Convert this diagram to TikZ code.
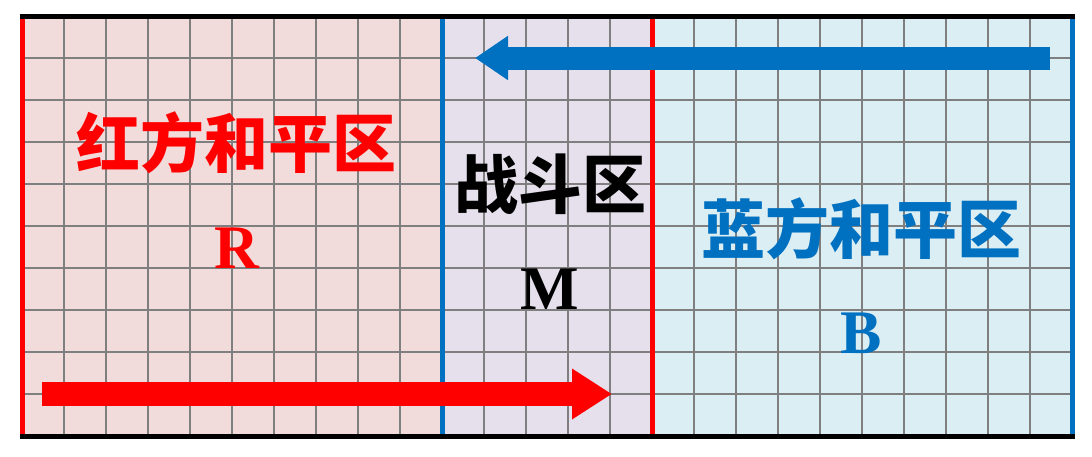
\documentclass[tikz,border=0pt]{standalone}
\usepackage{fontspec}
\setmainfont{Liberation Serif}
\newfontfamily\cjk{Noto Sans CJK SC}
\usetikzlibrary{arrows.meta}
\definecolor{zred}{HTML}{FF0000}
\definecolor{zblue}{HTML}{0070C0}
\definecolor{rfill}{HTML}{F2DCDB}
\definecolor{mfill}{HTML}{E6E0EC}
\definecolor{bfill}{HTML}{DBEEF4}
\definecolor{gridgray}{HTML}{7F7F7F}
\begin{document}
\begin{tikzpicture}[x=1pt,y=-1pt,
  region/.style={inner sep=0pt, outer sep=0pt, draw=none, minimum width=420pt, minimum height=420pt},
  gridline/.style={draw=gridgray, line width=2pt},
  border/.style={line width=5pt},
  frame/.style={draw=black, line width=5pt},
  cjklabel/.style={font=\cjk\bfseries\fontsize{64}{64}\selectfont, inner sep=0pt},
  latlabel/.style={font=\bfseries\fontsize{62}{62}\selectfont, inner sep=0pt}
]
\useasboundingbox (0,0) rectangle (1092,456);
% regions
\node[region, fill=rfill] (R) at (232,226) {};
\node[region, fill=mfill, minimum width=210pt] (M) at (547,226) {};
\node[region, fill=bfill] (B) at (862,226) {};
% grid
\foreach \i in {1,...,24} {
  \draw[gridline] (22+42*\i,16) -- (22+42*\i,436);
}
\foreach \j in {1,...,9} {
  \draw[gridline] (22,16+42*\j) -- (1072,16+42*\j);
}
% borders
\draw[border, zred] (R.north west) -- (R.south west);
\draw[border, zblue] (M.north west) -- (M.south west);
\draw[border, zred] (B.north west) -- (B.south west);
\draw[border, zblue] (B.north east) -- (B.south east);
\draw[frame] ([xshift=-2.5pt]R.north west) -- ([xshift=2.5pt]B.north east);
\draw[frame] ([xshift=-2.5pt]R.south west) -- ([xshift=2.5pt]B.south east);
% labels
\node[cjklabel, text=zred] (rt) at (236,143) {红方和平区};
\node[latlabel, text=zred] (rl) at (237,248) {R};
\node[cjklabel, text=black] (mt) at (550,184) {战斗区};
\node[latlabel, text=black] (ml) at (550,289) {M};
\node[cjklabel, text=zblue] (bt) at (861,229) {蓝方和平区};
\node[latlabel, text=zblue] (bl) at (861,333) {B};
% arrows
\coordinate (ra) at (42,394);
\coordinate (rb) at (612,394);
\coordinate (ba) at (1050,58);
\coordinate (bb) at (475,58);
\draw[zred, line width=24pt, -{Triangle[length=40pt,width=48pt]}] (ra) -- (rb);
\draw[zblue, line width=23pt, -{Triangle[length=33pt,width=42pt]}] (ba) -- (bb);
\end{tikzpicture}
\end{document}
